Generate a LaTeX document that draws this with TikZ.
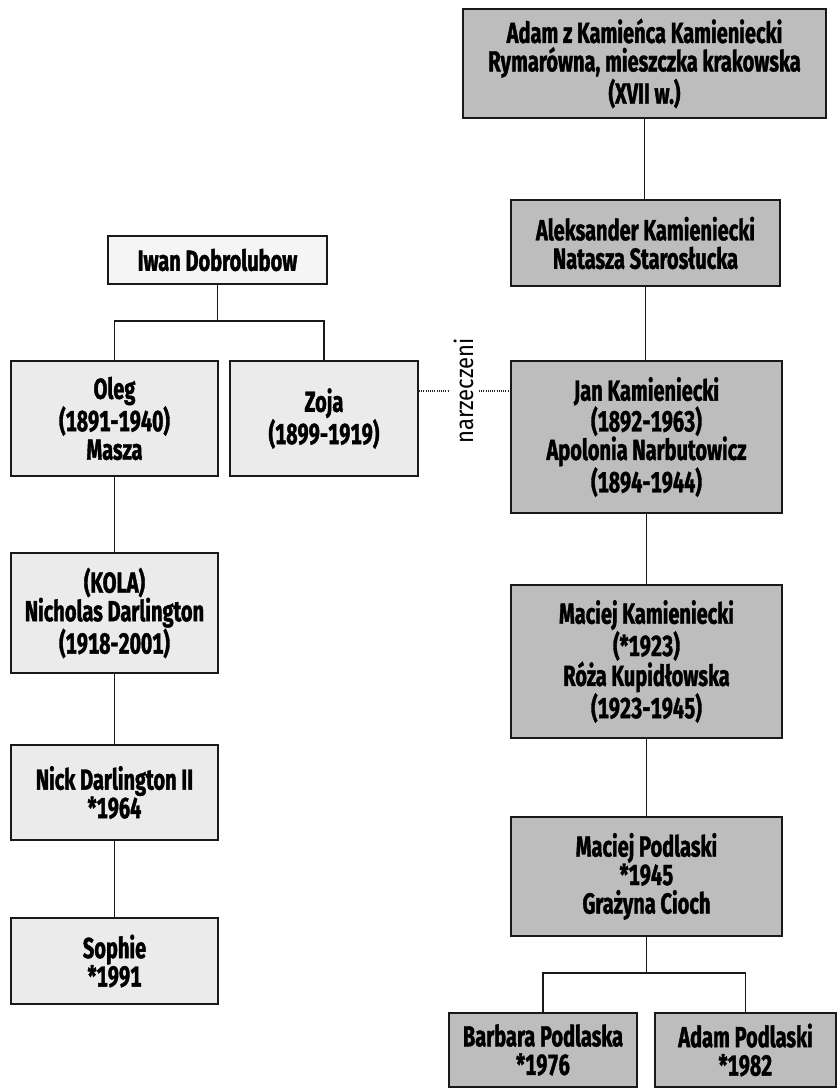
\documentclass[tikz,border=0pt]{standalone}
\usepackage{fontspec}
\setmainfont{Fira Sans}[FakeStretch=0.69, Numbers=Monospaced, BoldFeatures={FakeBold=1.3}]
\newfontfamily\labelfont{Fira Sans}[FakeStretch=0.88]
\begin{document}
\begin{tikzpicture}[x=1pt,y=-1pt,
  person/.style={draw=black!90, line width=2pt, align=center, inner sep=0pt,
    font=\fontsize{29}{28.5}\selectfont\bfseries},
  dark/.style={person, fill=black!26},
  light/.style={person, fill=black!8},
  lighter/.style={person, fill=black!4},
  link/.style={line width=1.8pt, draw=black!90},
  engaged/.style={line width=1.1pt, dash pattern=on 1pt off 1.2pt, draw=black!85}
]
\useasboundingbox (0,0) rectangle (839,1090);
% right column
\node[dark, minimum width=363, minimum height=109] (adam) at (644.5,63.5)
  {Adam z Kamieńca Kamieniecki\\Rymarówna, mieszczka krakowska\\(XVII w.)};
\node[dark, minimum width=269, minimum height=86] (alek) at (645.5,243)
  {Aleksander Kamieniecki\\Natasza Starosłucka};
\node[dark, minimum width=271, minimum height=152] (jan) at (646.5,437)
  {Jan Kamieniecki\\(1892-1963)\\Apolonia Narbutowicz\\(1894-1944)};
\node[dark, minimum width=271, minimum height=153] (maciejk) at (646.5,661.5)
  {Maciej Kamieniecki\\(*1923)\\Róża Kupidłowska\\(1923-1945)};
\node[dark, minimum width=271, minimum height=119] (podl) at (646.5,876.5)
  {Maciej Podlaski\\*1945\\Grażyna Cioch};
\node[dark, minimum width=188, minimum height=74] (barbara) at (543,1050)
  {Barbara Podlaska\\*1976};
\node[dark, minimum width=181, minimum height=74] (adamp) at (745.5,1050)
  {Adam Podlaski\\*1982};
% left column
\node[lighter, minimum width=219, minimum height=48] (iwan) at (217.5,260)
  {Iwan Dobrolubow};
\node[light, minimum width=207, minimum height=115] (oleg) at (114.5,418.5)
  {Oleg\\(1891-1940)\\Masza};
\node[light, minimum width=188, minimum height=115] (zoja) at (324,418.5)
  {Zoja\\(1899-1919)};
\node[light, minimum width=207, minimum height=120] (nicholas) at (114.5,613)
  {(KOLA)\\Nicholas Darlington\\(1918-2001)};
\node[light, minimum width=207, minimum height=95] (nick) at (114.5,792.5)
  {Nick Darlington II\\*1964};
\node[light, minimum width=207, minimum height=86] (sophie) at (114.5,961)
  {Sophie\\*1991};
% label
\node[rotate=90, inner sep=0pt, font=\labelfont\fontsize{25}{27}\selectfont] (narz) at (463.5,391) {narzeczeni};
\coordinate (dl) at (448,391);
\coordinate (dr) at (479,391);
% connectors
\draw[link] (adam.south) -- (adam.south |- alek.north);
\draw[link] (alek.south) -- (alek.south |- jan.north);
\draw[link] (jan.south) -- (jan.south |- maciejk.north);
\draw[link] (maciejk.south) -- (maciejk.south |- podl.north);
\draw[link] (podl.south) -- ++(0,36) -| (barbara.north);
\draw[link] (podl.south) -- ++(0,36) -| (adamp.north);
\draw[link] (iwan.south) -- ++(0,36) -| (oleg.north);
\draw[link] (iwan.south) -- ++(0,36) -| (zoja.north);
\draw[link] (oleg.south) -- (nicholas.north);
\draw[link] (nicholas.south) -- (nick.north);
\draw[link] (nick.south) -- (sophie.north);
\draw[engaged] (zoja.east |- dl) -- (dl);
\draw[engaged] (dr) -- (jan.west |- dr);
\end{tikzpicture}
\end{document}
